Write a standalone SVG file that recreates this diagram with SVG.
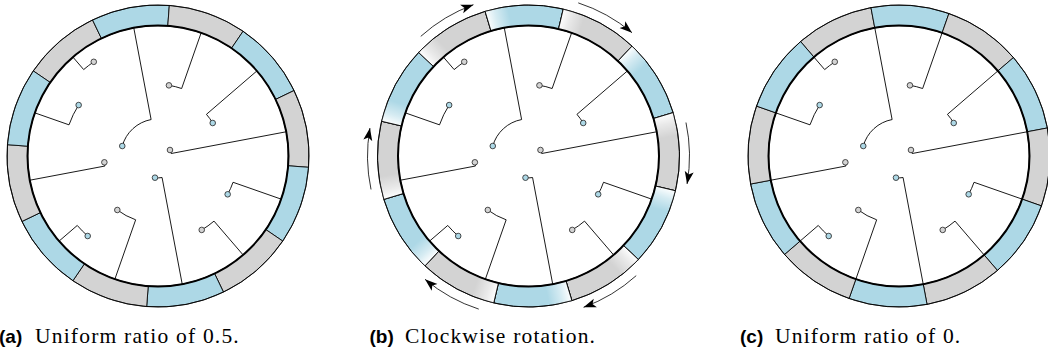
<svg xmlns="http://www.w3.org/2000/svg" xmlns:xlink="http://www.w3.org/1999/xlink" width="1048" height="356" viewBox="0 0 1048 356">
<style>
.g{fill:#D3D3D3;stroke:#000;stroke-width:0.8}
.b{fill:#ADD8E6;stroke:#000;stroke-width:0.8}
.ov{fill:url(#fade);stroke:none}
.bd{stroke:#000;stroke-width:0.8}
.outer{fill:none;stroke:#000;stroke-width:0.8}
.inner{fill:none;stroke:#000;stroke-width:2}
.edge{fill:none;stroke:#000;stroke-width:0.9}
.nb{fill:#ADD8E6;stroke:#222;stroke-width:0.8}
.ng{fill:#D3D3D3;stroke:#222;stroke-width:0.8}
.arr{fill:none;stroke:#000;stroke-width:0.8;marker-end:url(#ah)}
.cap{font-family:"Liberation Serif",serif;font-size:21.5px;letter-spacing:1.2px;fill:#000}
.lab{font-family:"Liberation Sans",sans-serif;font-weight:bold;font-size:19px;fill:#000}
</style>
<defs>
<path id="sec" d="M151,0 A151,151 0 0 1 130.77,75.5 L113.02,65.25 A130.5,130.5 0 0 0 130.5,0Z"/>
<path id="ovs" d="M151,0 A151,151 0 0 1 147.70,31.39 L127.65,27.13 A130.5,130.5 0 0 0 130.5,0Z"/>
<line id="bl" x1="130.5" y1="0" x2="151" y2="0"/>
<linearGradient id="fade" gradientUnits="userSpaceOnUse" x1="140.75" y1="0" x2="139.02" y2="22.02">
<stop offset="0" stop-color="#fff" stop-opacity="0.95"/>
<stop offset="0.4" stop-color="#fff" stop-opacity="0.5"/>
<stop offset="1" stop-color="#fff" stop-opacity="0"/>
</linearGradient>
<marker id="ah" markerUnits="userSpaceOnUse" markerWidth="16" markerHeight="12" refX="12.5" refY="6" orient="auto" viewBox="0 0 16 12">
<path d="M0,1.5 L12.5,6 L0,10.5 L3,6Z" fill="#000"/>
</marker>
</defs>

<!-- (a) -->
<g id="diagram-a" transform="translate(158,156)">
<g id="a-ring">
<use href="#sec" class="g" transform="rotate(214.3)"/>
<use href="#sec" class="b" transform="rotate(244.3)"/>
<use href="#sec" class="g" transform="rotate(274.3)"/>
<use href="#sec" class="b" transform="rotate(304.3)"/>
<use href="#sec" class="g" transform="rotate(334.3)"/>
<use href="#sec" class="b" transform="rotate(4.3)"/>
<use href="#sec" class="g" transform="rotate(34.3)"/>
<use href="#sec" class="b" transform="rotate(64.3)"/>
<use href="#sec" class="g" transform="rotate(94.3)"/>
<use href="#sec" class="b" transform="rotate(124.3)"/>
<use href="#sec" class="g" transform="rotate(154.3)"/>
<use href="#sec" class="b" transform="rotate(184.3)"/>
<circle class="outer" r="151"/>
<circle class="inner" r="130.5"/>
</g>
<g id="a-connectors">
<path class="edge" d="M-64.24,-94.18 A114,114 0 0 0 -74.34,-86.43 L-85.10,-98.93"/>
<path class="edge" d="M-79.35,-50.94 A94.3,94.3 0 0 0 -89.00,-31.17 L-123.17,-43.13"/>
<path class="edge" d="M-35.73,-9.98 A37.1,37.1 0 0 1 -6.89,-36.45 L-24.23,-128.23"/>
<path class="edge" d="M10.94,-70.66 A71.5,71.5 0 0 1 23.63,-67.48 L43.13,-123.17"/>
<path class="edge" d="M54.72,-33.00 A63.9,63.9 0 0 0 48.44,-41.67 L98.93,-85.10"/>
<path class="edge" d="M11.98,-6.00 A13.4,13.4 0 0 1 13.17,-2.49 L128.23,-24.23"/>
<path class="edge" d="M-53.63,6.30 A54,54 0 0 0 -53.06,10.03 L-128.23,24.23"/>
<path class="edge" d="M-3.01,21.69 A21.9,21.9 0 0 0 4.07,21.52 L24.23,128.23"/>
<path class="edge" d="M69.67,38.30 A79.5,79.5 0 0 0 75.03,26.28 L123.17,43.13"/>
<path class="edge" d="M-40.68,53.99 A67.6,67.6 0 0 0 -22.34,63.80 L-43.13,123.17"/>
<path class="edge" d="M43.72,73.93 A85.9,85.9 0 0 0 56.02,65.12 L85.10,98.93"/>
<path class="edge" d="M-70.29,80.01 A106.5,106.5 0 0 1 -80.74,69.45 L-98.93,85.10"/>
</g>
<g id="a-nA"><circle class="ng" cx="-64.24" cy="-94.18" r="2.8"/></g>
<g id="a-nB"><circle class="nb" cx="-79.35" cy="-50.94" r="2.8"/></g>
<g id="a-nC"><circle class="nb" cx="-35.73" cy="-9.98" r="2.8"/></g>
<g id="a-nD"><circle class="ng" cx="10.94" cy="-70.66" r="2.8"/></g>
<g id="a-nE"><circle class="nb" cx="54.72" cy="-33.00" r="2.8"/></g>
<g id="a-nF"><circle class="ng" cx="11.98" cy="-6.00" r="2.8"/></g>
<g id="a-nG"><circle class="ng" cx="-53.63" cy="6.30" r="2.8"/></g>
<g id="a-nH"><circle class="nb" cx="-3.01" cy="21.69" r="2.8"/></g>
<g id="a-nI"><circle class="nb" cx="69.67" cy="38.30" r="2.8"/></g>
<g id="a-nJ"><circle class="ng" cx="-40.68" cy="53.99" r="2.8"/></g>
<g id="a-nK"><circle class="ng" cx="43.72" cy="73.93" r="2.8"/></g>
<g id="a-nL"><circle class="nb" cx="-70.29" cy="80.01" r="2.8"/></g>
</g>

<!-- (b) -->
<g id="diagram-b" transform="translate(528.5,156)">
<g id="b-ring">
<use href="#sec" class="g" transform="rotate(223.3)"/>
<use href="#sec" class="b" transform="rotate(253.3)"/>
<use href="#sec" class="g" transform="rotate(283.3)"/>
<use href="#sec" class="b" transform="rotate(313.3)"/>
<use href="#sec" class="g" transform="rotate(343.3)"/>
<use href="#sec" class="b" transform="rotate(13.3)"/>
<use href="#sec" class="g" transform="rotate(43.3)"/>
<use href="#sec" class="b" transform="rotate(73.3)"/>
<use href="#sec" class="g" transform="rotate(103.3)"/>
<use href="#sec" class="b" transform="rotate(133.3)"/>
<use href="#sec" class="g" transform="rotate(163.3)"/>
<use href="#sec" class="b" transform="rotate(193.3)"/>
<use href="#ovs" class="ov" transform="rotate(223.3)"/>
<use href="#ovs" class="ov" transform="rotate(253.3)"/>
<use href="#ovs" class="ov" transform="rotate(283.3)"/>
<use href="#ovs" class="ov" transform="rotate(313.3)"/>
<use href="#ovs" class="ov" transform="rotate(343.3)"/>
<use href="#ovs" class="ov" transform="rotate(13.3)"/>
<use href="#ovs" class="ov" transform="rotate(43.3)"/>
<use href="#ovs" class="ov" transform="rotate(73.3)"/>
<use href="#ovs" class="ov" transform="rotate(103.3)"/>
<use href="#ovs" class="ov" transform="rotate(133.3)"/>
<use href="#ovs" class="ov" transform="rotate(163.3)"/>
<use href="#ovs" class="ov" transform="rotate(193.3)"/>
<use href="#bl" class="bd" transform="rotate(223.3)"/>
<use href="#bl" class="bd" transform="rotate(253.3)"/>
<use href="#bl" class="bd" transform="rotate(283.3)"/>
<use href="#bl" class="bd" transform="rotate(313.3)"/>
<use href="#bl" class="bd" transform="rotate(343.3)"/>
<use href="#bl" class="bd" transform="rotate(13.3)"/>
<use href="#bl" class="bd" transform="rotate(43.3)"/>
<use href="#bl" class="bd" transform="rotate(73.3)"/>
<use href="#bl" class="bd" transform="rotate(103.3)"/>
<use href="#bl" class="bd" transform="rotate(133.3)"/>
<use href="#bl" class="bd" transform="rotate(163.3)"/>
<use href="#bl" class="bd" transform="rotate(193.3)"/>
<circle class="outer" r="151"/>
<circle class="inner" r="130.5"/>
</g>
<g id="b-rotation-arrows">
<path class="arr" d="M-107.73,-119.65 A161,161 0 0 1 -55.07,-151.29"/>
<path class="arr" d="M49.75,-153.12 A161,161 0 0 1 103.49,-123.33"/>
<path class="arr" d="M157.48,-33.47 A161,161 0 0 1 158.55,27.96"/>
<path class="arr" d="M107.73,119.65 A161,161 0 0 1 55.07,151.29"/>
<path class="arr" d="M-49.75,153.12 A161,161 0 0 1 -103.49,123.33"/>
<path class="arr" d="M-157.48,33.47 A161,161 0 0 1 -158.55,-27.96"/>
</g>
<g id="b-connectors">
<path class="edge" d="M-64.24,-94.18 A114,114 0 0 0 -74.34,-86.43 L-85.10,-98.93"/>
<path class="edge" d="M-79.35,-50.94 A94.3,94.3 0 0 0 -89.00,-31.17 L-123.17,-43.13"/>
<path class="edge" d="M-35.73,-9.98 A37.1,37.1 0 0 1 -6.89,-36.45 L-24.23,-128.23"/>
<path class="edge" d="M10.94,-70.66 A71.5,71.5 0 0 1 23.63,-67.48 L43.13,-123.17"/>
<path class="edge" d="M54.72,-33.00 A63.9,63.9 0 0 0 48.44,-41.67 L98.93,-85.10"/>
<path class="edge" d="M11.98,-6.00 A13.4,13.4 0 0 1 13.17,-2.49 L128.23,-24.23"/>
<path class="edge" d="M-53.63,6.30 A54,54 0 0 0 -53.06,10.03 L-128.23,24.23"/>
<path class="edge" d="M-3.01,21.69 A21.9,21.9 0 0 0 4.07,21.52 L24.23,128.23"/>
<path class="edge" d="M69.67,38.30 A79.5,79.5 0 0 0 75.03,26.28 L123.17,43.13"/>
<path class="edge" d="M-40.68,53.99 A67.6,67.6 0 0 0 -22.34,63.80 L-43.13,123.17"/>
<path class="edge" d="M43.72,73.93 A85.9,85.9 0 0 0 56.02,65.12 L85.10,98.93"/>
<path class="edge" d="M-70.29,80.01 A106.5,106.5 0 0 1 -80.74,69.45 L-98.93,85.10"/>
</g>
<g id="b-nA"><circle class="ng" cx="-64.24" cy="-94.18" r="2.8"/></g>
<g id="b-nB"><circle class="nb" cx="-79.35" cy="-50.94" r="2.8"/></g>
<g id="b-nC"><circle class="nb" cx="-35.73" cy="-9.98" r="2.8"/></g>
<g id="b-nD"><circle class="ng" cx="10.94" cy="-70.66" r="2.8"/></g>
<g id="b-nE"><circle class="nb" cx="54.72" cy="-33.00" r="2.8"/></g>
<g id="b-nF"><circle class="ng" cx="11.98" cy="-6.00" r="2.8"/></g>
<g id="b-nG"><circle class="ng" cx="-53.63" cy="6.30" r="2.8"/></g>
<g id="b-nH"><circle class="nb" cx="-3.01" cy="21.69" r="2.8"/></g>
<g id="b-nI"><circle class="nb" cx="69.67" cy="38.30" r="2.8"/></g>
<g id="b-nJ"><circle class="ng" cx="-40.68" cy="53.99" r="2.8"/></g>
<g id="b-nK"><circle class="ng" cx="43.72" cy="73.93" r="2.8"/></g>
<g id="b-nL"><circle class="nb" cx="-70.29" cy="80.01" r="2.8"/></g>
</g>

<!-- (c) -->
<g id="diagram-c" transform="translate(899,156)">
<g id="c-ring">
<use href="#sec" class="g" transform="rotate(229.3)"/>
<use href="#sec" class="b" transform="rotate(259.3)"/>
<use href="#sec" class="g" transform="rotate(289.3)"/>
<use href="#sec" class="b" transform="rotate(319.3)"/>
<use href="#sec" class="g" transform="rotate(349.3)"/>
<use href="#sec" class="b" transform="rotate(19.3)"/>
<use href="#sec" class="g" transform="rotate(49.3)"/>
<use href="#sec" class="b" transform="rotate(79.3)"/>
<use href="#sec" class="g" transform="rotate(109.3)"/>
<use href="#sec" class="b" transform="rotate(139.3)"/>
<use href="#sec" class="g" transform="rotate(169.3)"/>
<use href="#sec" class="b" transform="rotate(199.3)"/>
<circle class="outer" r="151"/>
<circle class="inner" r="130.5"/>
</g>
<g id="c-connectors">
<path class="edge" d="M-64.24,-94.18 A114,114 0 0 0 -74.34,-86.43 L-85.10,-98.93"/>
<path class="edge" d="M-79.35,-50.94 A94.3,94.3 0 0 0 -89.00,-31.17 L-123.17,-43.13"/>
<path class="edge" d="M-35.73,-9.98 A37.1,37.1 0 0 1 -6.89,-36.45 L-24.23,-128.23"/>
<path class="edge" d="M10.94,-70.66 A71.5,71.5 0 0 1 23.63,-67.48 L43.13,-123.17"/>
<path class="edge" d="M54.72,-33.00 A63.9,63.9 0 0 0 48.44,-41.67 L98.93,-85.10"/>
<path class="edge" d="M11.98,-6.00 A13.4,13.4 0 0 1 13.17,-2.49 L128.23,-24.23"/>
<path class="edge" d="M-53.63,6.30 A54,54 0 0 0 -53.06,10.03 L-128.23,24.23"/>
<path class="edge" d="M-3.01,21.69 A21.9,21.9 0 0 0 4.07,21.52 L24.23,128.23"/>
<path class="edge" d="M69.67,38.30 A79.5,79.5 0 0 0 75.03,26.28 L123.17,43.13"/>
<path class="edge" d="M-40.68,53.99 A67.6,67.6 0 0 0 -22.34,63.80 L-43.13,123.17"/>
<path class="edge" d="M43.72,73.93 A85.9,85.9 0 0 0 56.02,65.12 L85.10,98.93"/>
<path class="edge" d="M-70.29,80.01 A106.5,106.5 0 0 1 -80.74,69.45 L-98.93,85.10"/>
</g>
<g id="c-nA"><circle class="ng" cx="-64.24" cy="-94.18" r="2.8"/></g>
<g id="c-nB"><circle class="nb" cx="-79.35" cy="-50.94" r="2.8"/></g>
<g id="c-nC"><circle class="nb" cx="-35.73" cy="-9.98" r="2.8"/></g>
<g id="c-nD"><circle class="ng" cx="10.94" cy="-70.66" r="2.8"/></g>
<g id="c-nE"><circle class="nb" cx="54.72" cy="-33.00" r="2.8"/></g>
<g id="c-nF"><circle class="ng" cx="11.98" cy="-6.00" r="2.8"/></g>
<g id="c-nG"><circle class="ng" cx="-53.63" cy="6.30" r="2.8"/></g>
<g id="c-nH"><circle class="nb" cx="-3.01" cy="21.69" r="2.8"/></g>
<g id="c-nI"><circle class="nb" cx="69.67" cy="38.30" r="2.8"/></g>
<g id="c-nJ"><circle class="ng" cx="-40.68" cy="53.99" r="2.8"/></g>
<g id="c-nK"><circle class="ng" cx="43.72" cy="73.93" r="2.8"/></g>
<g id="c-nL"><circle class="nb" cx="-70.29" cy="80.01" r="2.8"/></g>
</g>

<g id="captions">
<text class="lab" x="-1" y="343">(a)</text>
<text class="cap" x="35" y="343">Uniform ratio of 0.5.</text>
<text class="lab" x="369.5" y="343">(b)</text>
<text class="cap" x="405" y="343">Clockwise rotation.</text>
<text class="lab" x="740" y="343">(c)</text>
<text class="cap" x="775" y="343">Uniform ratio of 0.</text>
</g>
</svg>
